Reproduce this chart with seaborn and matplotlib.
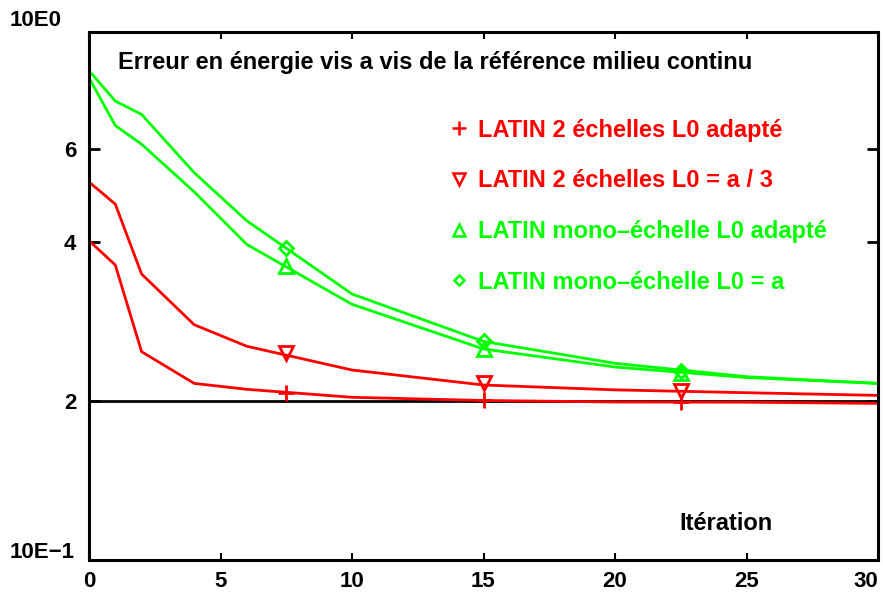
import pandas as pd
import matplotlib.pyplot as plt
import seaborn as sns
from matplotlib.lines import Line2D

sns.set_style("ticks")
plt.rcParams["font.family"] = ["Liberation Sans", "DejaVu Sans"]
plt.rcParams["font.weight"] = "bold"
plt.rcParams["text.color"] = "black"
plt.rcParams["xtick.color"] = "black"
plt.rcParams["ytick.color"] = "black"

# data
iterations = [0, 1, 2, 4, 6, 10, 15, 20, 25, 30]
red_adapte = [0.4025, 0.362, 0.248, 0.216, 0.2105, 0.2033, 0.2005, 0.1992, 0.199, 0.198]
red_a3 = [0.520, 0.472, 0.348, 0.279, 0.254, 0.229, 0.2145, 0.210, 0.2074, 0.205]
green_adapte = [0.819, 0.665, 0.613, 0.498, 0.396, 0.305, 0.251, 0.232, 0.2216, 0.216]
green_a = [0.845, 0.740, 0.698, 0.5415, 0.439, 0.319, 0.2594, 0.2358, 0.2224, 0.216]

marker_x = [7.5, 15, 22.5]
red_adapte_pts = [0.2076, 0.2005, 0.1992]
red_a3_pts = [0.2463, 0.2163, 0.209]
green_adapte_pts = [0.361, 0.251, 0.226]
green_a_pts = [0.390, 0.2597, 0.228]

labels = ["LATIN 2 échelles L0 adapté",
          "LATIN 2 échelles L0 = a / 3",
          "LATIN mono–échelle L0 adapté",
          "LATIN mono–échelle L0 = a"]
colors = ["#ff0000", "#ff0000", "#00ff00", "#00ff00"]
markers = ["+", "v", "^", "D"]
msizes = [12, 10, 10, 7]

series = [red_adapte, red_a3, green_adapte, green_a]
points = [red_adapte_pts, red_a3_pts, green_adapte_pts, green_a_pts]

df = pd.concat([pd.DataFrame({"Itération": iterations, "Erreur": vals, "serie": lab})
                for vals, lab in zip(series, labels)])

fig = plt.figure(figsize=(8.83, 5.97), dpi=100)
ax = fig.add_axes([89 / 883, 1 - 560 / 597, 789 / 883, 528 / 597])

ax.axhline(0.2, color="black", lw=2, zorder=1)

sns.lineplot(data=df, x="Itération", y="Erreur", hue="serie",
             palette=dict(zip(labels, colors)), linewidth=2,
             legend=False, ax=ax, zorder=2)

for pts, c, m, s in zip(points, colors, markers, msizes):
    ax.plot(marker_x, pts, linestyle="none", marker=m, markersize=s,
            markerfacecolor="none", markeredgecolor=c, markeredgewidth=2, zorder=3)

ax.set_yscale("log")
ax.set_ylim(0.1, 1.0)
ax.set_xlim(0, 30)
ax.set_yticks([0.2, 0.4, 0.6])
ax.set_yticklabels(["2", "4", "6"])
ax.yaxis.set_minor_locator(plt.NullLocator())
ax.set_xticks([0, 5, 10, 15, 20, 25, 30])
ax.set_xlabel("")
ax.set_ylabel("")

for s in ax.spines.values():
    s.set_linewidth(2.2)
    s.set_color("black")
    s.set_visible(True)
ax.tick_params(axis="y", direction="in", length=8, width=2, pad=9,
               labelsize=16, right=True)
ax.tick_params(axis="x", direction="in", length=5, width=1.5, pad=8,
               labelsize=16, top=True)
for lab in ax.get_xticklabels() + ax.get_yticklabels():
    lab.set_fontweight("bold")
ax.get_xticklabels()[-1].set_horizontalalignment("right")

ax.text(-0.1, 1.022, "10E0", transform=ax.transAxes, ha="left", va="center",
        fontsize=16, fontweight="bold")
ax.text(-0.1, 0.014, "10E−1", transform=ax.transAxes, ha="left", va="center",
        fontsize=16, fontweight="bold")

ax.text(0.0368, 0.943, "Erreur en énergie vis a vis de la référence milieu continu",
        transform=ax.transAxes, ha="left", va="center", fontsize=17, fontweight="bold")
ax.text(0.807, 0.07, "Itération", transform=ax.transAxes, ha="center", va="center",
        fontsize=17, fontweight="bold")

handles = [Line2D([], [], linestyle="none", marker=m, markersize=s * 0.8,
                  markerfacecolor="none", markeredgecolor=c, markeredgewidth=1.8)
           for c, m, s in zip(colors, markers, msizes)]
leg = ax.legend(handles, labels, loc="upper left", bbox_to_anchor=(0.432, 0.876),
                frameon=False, fontsize=17, labelspacing=1.17, handlelength=0.7,
                handletextpad=0.45, labelcolor="markeredgecolor")
for t in leg.get_texts():
    t.set_fontweight("bold")

fig.savefig("out.png", dpi=100)
